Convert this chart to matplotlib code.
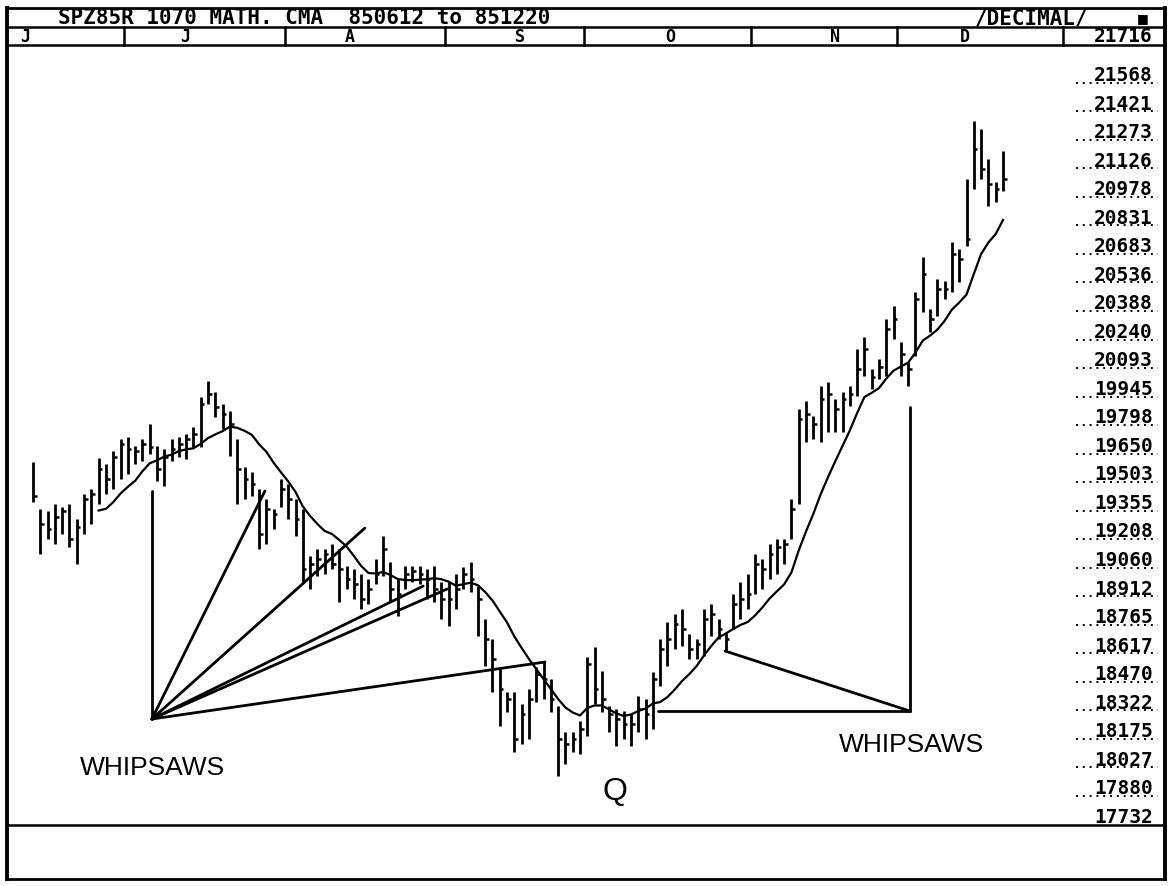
import numpy as np
import pandas as pd
import matplotlib
matplotlib.use("Agg")
import matplotlib.pyplot as plt
import matplotlib.transforms as mtransforms
from matplotlib.lines import Line2D

# ---------------- data ----------------
title_text = "SPZ85R 1070 MATH. CMA  850612 to 851220"
mode_text = "/DECIMAL/"
month_labels = ["J", "J", "A", "S", "O", "N", "D"]
month_first_bar = [0, 13, 35, 57, 76, 99, 119]   # index of first trading day of each month
top_label = "21716"
price_labels = [21568, 21421, 21273, 21126, 20978, 20831, 20683, 20536, 20388,
                20240, 20093, 19945, 19798, 19650, 19503, 19355, 19208, 19060,
                18912, 18765, 18617, 18470, 18322, 18175, 18027, 17880, 17732]

highs = [19565, 19322, 19311, 19348, 19332, 19348, 19270, 19399, 19425, 19586,
         19555, 19622, 19684, 19694, 19648, 19684, 19762, 19648, 19632, 19684,
         19694, 19710, 19746, 19901, 19984, 19927, 19865, 19829, 19684, 19539,
         19513, 19425, 19374, 19322, 19477, 19451, 19374, 19322, 19079, 19115,
         19115, 19141, 19115, 19027, 19011, 18985, 18960, 19063, 19182, 19048,
         18960, 19027, 19027, 19027, 19011, 19027, 18944, 18944, 18985, 19022,
         19048, 18923, 18753, 18649, 18494, 18375, 18375, 18313, 18390, 18504,
         18530, 18442, 18302, 18168, 18168, 18225, 18556, 18608, 18483, 18302,
         18287, 18276, 18261, 18354, 18339, 18478, 18649, 18737, 18778, 18804,
         18675, 18649, 18804, 18830, 18753, 18685, 18882, 18944, 18985, 19089,
         19063, 19141, 19167, 19167, 19374, 19839, 19881, 19803, 19958, 19979,
         19891, 19927, 19958, 20150, 20212, 20046, 20098, 20305, 20372, 20186,
         20082, 20445, 20626, 20357, 20512, 20502, 20703, 20667, 21030, 21330,
         21288, 21133, 21014, 21174]
lows = [19358, 19089, 19167, 19141, 19192, 19125, 19037, 19192, 19244, 19348,
        19399, 19425, 19477, 19503, 19555, 19570, 19606, 19467, 19441, 19570,
        19591, 19580, 19643, 19643, 19865, 19798, 19736, 19596, 19348, 19374,
        19389, 19115, 19141, 19218, 19332, 19270, 19182, 18944, 18908, 18975,
        18985, 19011, 18841, 18908, 18856, 18804, 18830, 18934, 18975, 18841,
        18768, 18908, 18944, 18934, 18856, 18841, 18753, 18716, 18804, 18908,
        18892, 18665, 18509, 18375, 18199, 18271, 18064, 18106, 18132, 18323,
        18339, 18271, 17940, 18002, 18064, 18054, 18147, 18313, 18271, 18168,
        18095, 18132, 18095, 18168, 18132, 18183, 18406, 18509, 18597, 18613,
        18546, 18546, 18561, 18665, 18649, 18582, 18701, 18753, 18804, 18882,
        18908, 18960, 18985, 19037, 19167, 19348, 19668, 19684, 19668, 19720,
        19720, 19720, 19855, 19906, 20010, 19943, 19994, 20010, 20201, 20010,
        19958, 20113, 20341, 20238, 20320, 20408, 20445, 20496, 20683, 20978,
        21030, 20890, 20910, 20967]
closes = [19389, 19244, 19218, 19280, 19311, 19167, 19229, 19374, 19399, 19529,
          19477, 19591, 19658, 19632, 19622, 19658, 19643, 19529, 19591, 19632,
          19658, 19684, 19710, 19865, 19917, 19850, 19813, 19762, 19529, 19477,
          19451, 19192, 19322, 19296, 19425, 19374, 19270, 19011, 19037, 19063,
          19089, 19037, 19011, 18960, 18934, 18856, 18908, 18985, 19115, 18908,
          18882, 18985, 19001, 18985, 18960, 18908, 18856, 18856, 18908, 18985,
          18960, 18856, 18649, 18546, 18390, 18339, 18132, 18261, 18339, 18468,
          18442, 18339, 18132, 18106, 18132, 18183, 18520, 18390, 18339, 18261,
          18235, 18209, 18209, 18287, 18261, 18442, 18597, 18649, 18727, 18701,
          18597, 18623, 18753, 18778, 18701, 18649, 18830, 18856, 18882, 19037,
          19011, 19089, 19125, 19141, 19322, 19787, 19813, 19762, 19891, 19917,
          19839, 19891, 19917, 20046, 20150, 20005, 20057, 20253, 20305, 20124,
          20046, 20408, 20538, 20305, 20460, 20460, 20641, 20615, 20719, 21185,
          21081, 21004, 20978, 21030]
ma_window = 10

# annotation lines (bar index, price)
fan_origin = (16.3, 18235)
fan_ends = [(16.3, 19415), (31.8, 19415), (45.5, 19223), (53.5, 18923),
            (56.8, 18908), (70.2, 18530)]
right_corner = (120.25, 18276)
right_ends = [(120.25, 19850), (94.9, 18587), (85.7, 18276)]

# ---------------- figure ----------------
W, H = 1171, 887
fig = plt.figure(figsize=(W / 100, H / 100), dpi=100)
fig.patch.set_facecolor("white")


def fx(x):
    return x / W


def fy(y):
    return 1 - y / H


L, R, T1, T2, T3, B1, B2 = 7, 1165, 9, 28, 46, 826, 880
XR = 1063
ax = fig.add_axes([fx(10), fy(B1), fx(XR) - fx(10), fy(T3) - fy(B1)])
ax.set_xlim(-3.154, 141.23)
ax.set_ylim(17686.5, 21723.0)
ax.axis("off")

x = np.arange(len(highs))
ax.vlines(x, lows, highs, color="black", lw=2.0)
ax.hlines(closes, x, x + 0.5, color="black", lw=1.8)
ma = pd.Series(closes).rolling(ma_window).mean()
ax.plot(x, ma, color="black", lw=1.6)

for ex, ey in fan_ends:
    ax.plot([fan_origin[0], ex], [fan_origin[1], ey], color="black", lw=2.0,
            solid_capstyle="round")
for ex, ey in right_ends:
    ax.plot([right_corner[0], ex], [right_corner[1], ey], color="black", lw=2.0,
            solid_capstyle="round")

# ---------------- frame ----------------
def hline(y, x0=L, x1=R, lw=1.8):
    fig.add_artist(Line2D([fx(x0), fx(x1)], [fy(y), fy(y)], color="black", lw=lw,
                          transform=fig.transFigure))


def vline(xp, y0, y1, lw=1.8):
    fig.add_artist(Line2D([fx(xp), fx(xp)], [fy(y0), fy(y1)], color="black", lw=lw,
                          transform=fig.transFigure))


hline(T1, lw=2.0)
hline(T2)
hline(T3)
hline(B1)
hline(B2, lw=2.0)
vline(L, T1, B2, lw=2.8)
vline(R, T1, B2, lw=2.8)
vline(XR, T2, T3)

# month dividers in header row (between month boundaries, in bar coordinates)
bt = mtransforms.blended_transform_factory(ax.transData, fig.transFigure)
for k in month_first_bar[1:]:
    ax.add_artist(Line2D([k - 0.5, k - 0.5], [fy(T2), fy(T3)], color="black", lw=1.8,
                         transform=bt, clip_on=False))

mono = dict(family="DejaVu Sans Mono", weight="bold", color="black")
fig.text(fx(58), fy((T1 + T2) / 2), title_text, ha="left", va="center", fontsize=15, **mono)
fig.text(fx(975), fy((T1 + T2) / 2), mode_text, ha="left", va="center", fontsize=15, **mono)
fig.text(fx(1143), fy((T1 + T2) / 2), "\u25a0", ha="center", va="center", fontsize=9,
         family="DejaVu Sans", color="black")

month_label_px = [25, 185, 350, 520, 670, 835, 965]
for lab, mx in zip(month_labels, month_label_px):
    fig.text(fx(mx), fy((T2 + T3) / 2), lab, ha="center", va="center", fontsize=12, **mono)
fig.text(fx(1153), fy((T2 + T3) / 2), top_label, ha="right", va="center", fontsize=14, **mono)

# price scale on right
lt = mtransforms.blended_transform_factory(fig.transFigure, ax.transData)
dot_t = mtransforms.offset_copy(lt, fig=fig, y=-8, units="dots")
for p in price_labels:
    fig.text(fx(1153), p, str(p), transform=lt, ha="right", va="center", fontsize=14,
             clip_on=False, **mono)
    if p != price_labels[-1]:
        fig.add_artist(Line2D([fx(1076), fx(1158)], [p, p], color="black", lw=1.4,
                              linestyle=(0, (1, 2.5)), transform=dot_t))

# annotations text
sans = dict(family="Liberation Sans", color="black")
fig.text(fx(152), fy(768), "WHIPSAWS", ha="center", va="center", fontsize=19, **sans)
fig.text(fx(911), fy(745), "WHIPSAWS", ha="center", va="center", fontsize=19, **sans)
fig.text(fx(615), fy(792), "Q", ha="center", va="center", fontsize=23, **sans)

fig.savefig("out.png", dpi=100, facecolor="white")
